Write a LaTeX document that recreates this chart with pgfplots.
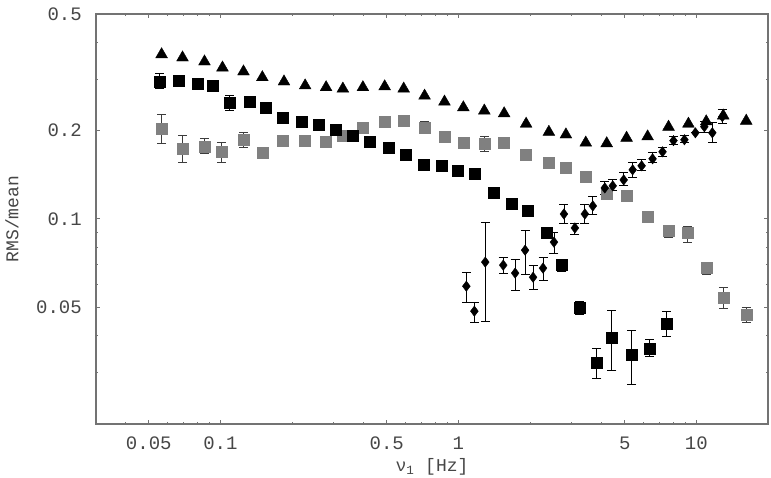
\documentclass[border=0pt]{standalone}
\usepackage{pgfplots}
\pgfplotsset{compat=1.18}
\usepackage{pgfplotstable}
\usepackage{fontspec}
\setmainfont{Liberation Mono}
\definecolor{txt}{RGB}{70,70,70}
\definecolor{axc}{RGB}{115,115,115}
\definecolor{graysq}{RGB}{128,128,128}
\definecolor{grayerr}{RGB}{60,60,60}

\pgfplotstableread{
x y ep em
0.0566 0.203 0.024 0.0225
0.0693 0.1735 0.0185 0.018
0.0857 0.176 0.0117 0.0092
0.1010 0.1695 0.0124 0.0141
0.125 0.186 0.0108 0.0111
0.150 0.168 0 0
0.1835 0.185 0 0
0.227 0.185 0 0
0.278 0.1834 0 0
0.327 0.1922 0 0
0.397 0.205 0 0
0.490 0.2146 0 0
0.589 0.216 0 0
0.721 0.205 0.0096 0.0097
0.874 0.191 0 0
1.049 0.182 0 0
1.285 0.1805 0.0105 0.011
1.557 0.182 0 0
1.926 0.1655 0 0
2.40 0.1554 0 0
2.83 0.1494 0 0
3.43 0.1392 0 0
4.20 0.1218 0 0
5.09 0.1198 0 0
6.24 0.1016 0 0
7.64 0.0910 0.0044 0.0042
9.17 0.0896 0.005 0.0062
11.0 0.0680 0.0033 0.0032
12.97 0.0541 0.0044 0.0045
16.2 0.0473 0.0027 0.0028
}\graysq

\pgfplotstableread{
x y ep em
0.0556 0.294 0.019 0.016
0.0667 0.297 0 0
0.0801 0.290 0 0
0.0926 0.285 0 0
0.1091 0.249 0.014 0.015
0.1322 0.251 0 0
0.1543 0.240 0 0
0.1835 0.222 0 0
0.2204 0.215 0 0
0.2596 0.210 0 0
0.3057 0.202 0 0
0.3601 0.192 0 0
0.4242 0.183 0 0
0.5095 0.175 0 0
0.6002 0.166 0 0
0.7139 0.153 0 0
0.8489 0.152 0 0
0.990 0.146 0 0
1.167 0.143 0 0
1.401 0.123 0 0
1.683 0.113 0 0
1.963 0.107 0 0
2.357 0.090 0 0
2.724 0.0696 0.0028 0.0032
3.239 0.0500 0.0024 0.0027
3.815 0.0324 0.0038 0.0038
4.410 0.0395 0.0093 0.009
5.346 0.0345 0.0072 0.0072
6.360 0.0362 0.0027 0.0022
7.490 0.0441 0.0044 0.0043
}\blacksq

\pgfplotstableread{
x y ep em
1.080 0.0590 0.0069 0.0070
1.167 0.0485 0.0035 0.0040
1.297 0.0713 0.0264 0.0265
1.543 0.0696 0.0045 0.0042
1.732 0.0654 0.0076 0.0082
1.907 0.0783 0.0134 0.0135
2.060 0.0633 0.0063 0.0057
2.268 0.0680 0.0061 0.0061
2.521 0.0834 0.0069 0.0069
2.777 0.1040 0.0077 0.0071
3.087 0.0932 0.0037 0.0044
3.400 0.1040 0.0077 0.0071
3.672 0.1108 0.0081 0.0068
4.122 0.1276 0.0062 0.0068
4.452 0.1297 0.0062 0.0050
4.950 0.1359 0.0077 0.0062
5.398 0.1471 0.0083 0.0090
5.888 0.1518 0.0073 0.0059
6.546 0.1604 0.0078 0.0050
7.207 0.1695 0.0065 0.0065
8.013 0.185 0.006 0.0059
8.910 0.1863 0.0059 0.0044
9.904 0.1968 0 0
10.80 0.2064 0.0082 0.0096
11.67 0.1968 0.0162 0.0149
12.85 0.2233 0.0126 0.0123
}\diam

\pgfplotstableread{
x y
0.0566 0.364
0.0693 0.355
0.0857 0.344
0.102 0.328
0.125 0.318
0.150 0.304
0.185 0.294
0.227 0.285
0.278 0.281
0.327 0.278
0.397 0.281
0.490 0.283
0.589 0.278
0.721 0.263
0.874 0.251
1.049 0.240
1.285 0.234
1.557 0.229
1.926 0.211
2.40 0.198
2.83 0.194
3.43 0.182
4.20 0.181
5.09 0.189
6.24 0.191
7.64 0.206
9.26 0.211
11.0 0.215
12.97 0.225
16.2 0.216
}\tri

\begin{document}
\begin{tikzpicture}
\begin{loglogaxis}[
  scale only axis, width=672pt, height=410pt,
  at={(0,0)}, anchor=south west,
  xmin=0.03, xmax=20, ymin=0.02, ymax=0.5,
  axis line style={axc, line width=1.3pt},
  every tick/.style={axc, line width=1pt},
  major tick length=4.5pt, minor tick length=2.5pt,
  xtick={0.05,0.1,0.5,1,5,10},
  xticklabels={0.05,0.1,0.5,1,5,10},
  minor xtick={0.03,0.04,0.06,0.07,0.08,0.09,0.2,0.3,0.4,0.6,0.7,0.8,0.9,2,3,4,6,7,8,9,20},
  ytick={0.05,0.1,0.2,0.5},
  yticklabels={0.05,0.1,0.2,0.5},
  minor ytick={0.03,0.04,0.06,0.07,0.08,0.09,0.3,0.4},
  tick label style={font=\fontsize{19}{21}\selectfont, text=txt},
  yticklabel style={inner sep=0pt, anchor=east, xshift=-14pt},
  xticklabel style={inner sep=0pt, anchor=north, yshift=-13pt},
  label style={font=\fontsize{18}{20}\selectfont, text=txt},
  xlabel={ν\textsubscript{1} [Hz]},
  ylabel={RMS/mean},
  xlabel style={at={(axis description cs:0.5,-0.1049)}, anchor=center, inner sep=0pt},
  ylabel style={at={(axis description cs:-0.125,0.5)}, anchor=center, inner sep=0pt},
  clip=false,
  error bars/y dir=both, error bars/y explicit,
  error bars/error mark options={rotate=90, mark size=4.5pt, line width=0.9pt},
  error bars/error bar style={line width=0.9pt},
]
\addplot[only marks, mark=square*, mark size=5.5pt, color=graysq,
  error bars/error bar style={grayerr, line width=0.9pt},
  error bars/error mark options={grayerr, rotate=90, mark size=4.5pt, line width=0.9pt}]
  table[x=x, y=y, y error plus=ep, y error minus=em]{\graysq};
\addplot[only marks, mark=square*, mark size=5.5pt, color=black]
  table[x=x, y=y, y error plus=ep, y error minus=em]{\blacksq};
\addplot[only marks, mark=diamond*, mark size=5.2pt, color=black]
  table[x=x, y=y, y error plus=ep, y error minus=em]{\diam};
\addplot[only marks, mark=triangle*, mark size=6.8pt, color=black, error bars/y dir=none]
  table[x=x, y=y]{\tri};
\end{loglogaxis}
\pgfresetboundingbox
\path[use as bounding box] (-96pt,-54pt) rectangle (675pt,424pt);
\end{tikzpicture}
\end{document}
